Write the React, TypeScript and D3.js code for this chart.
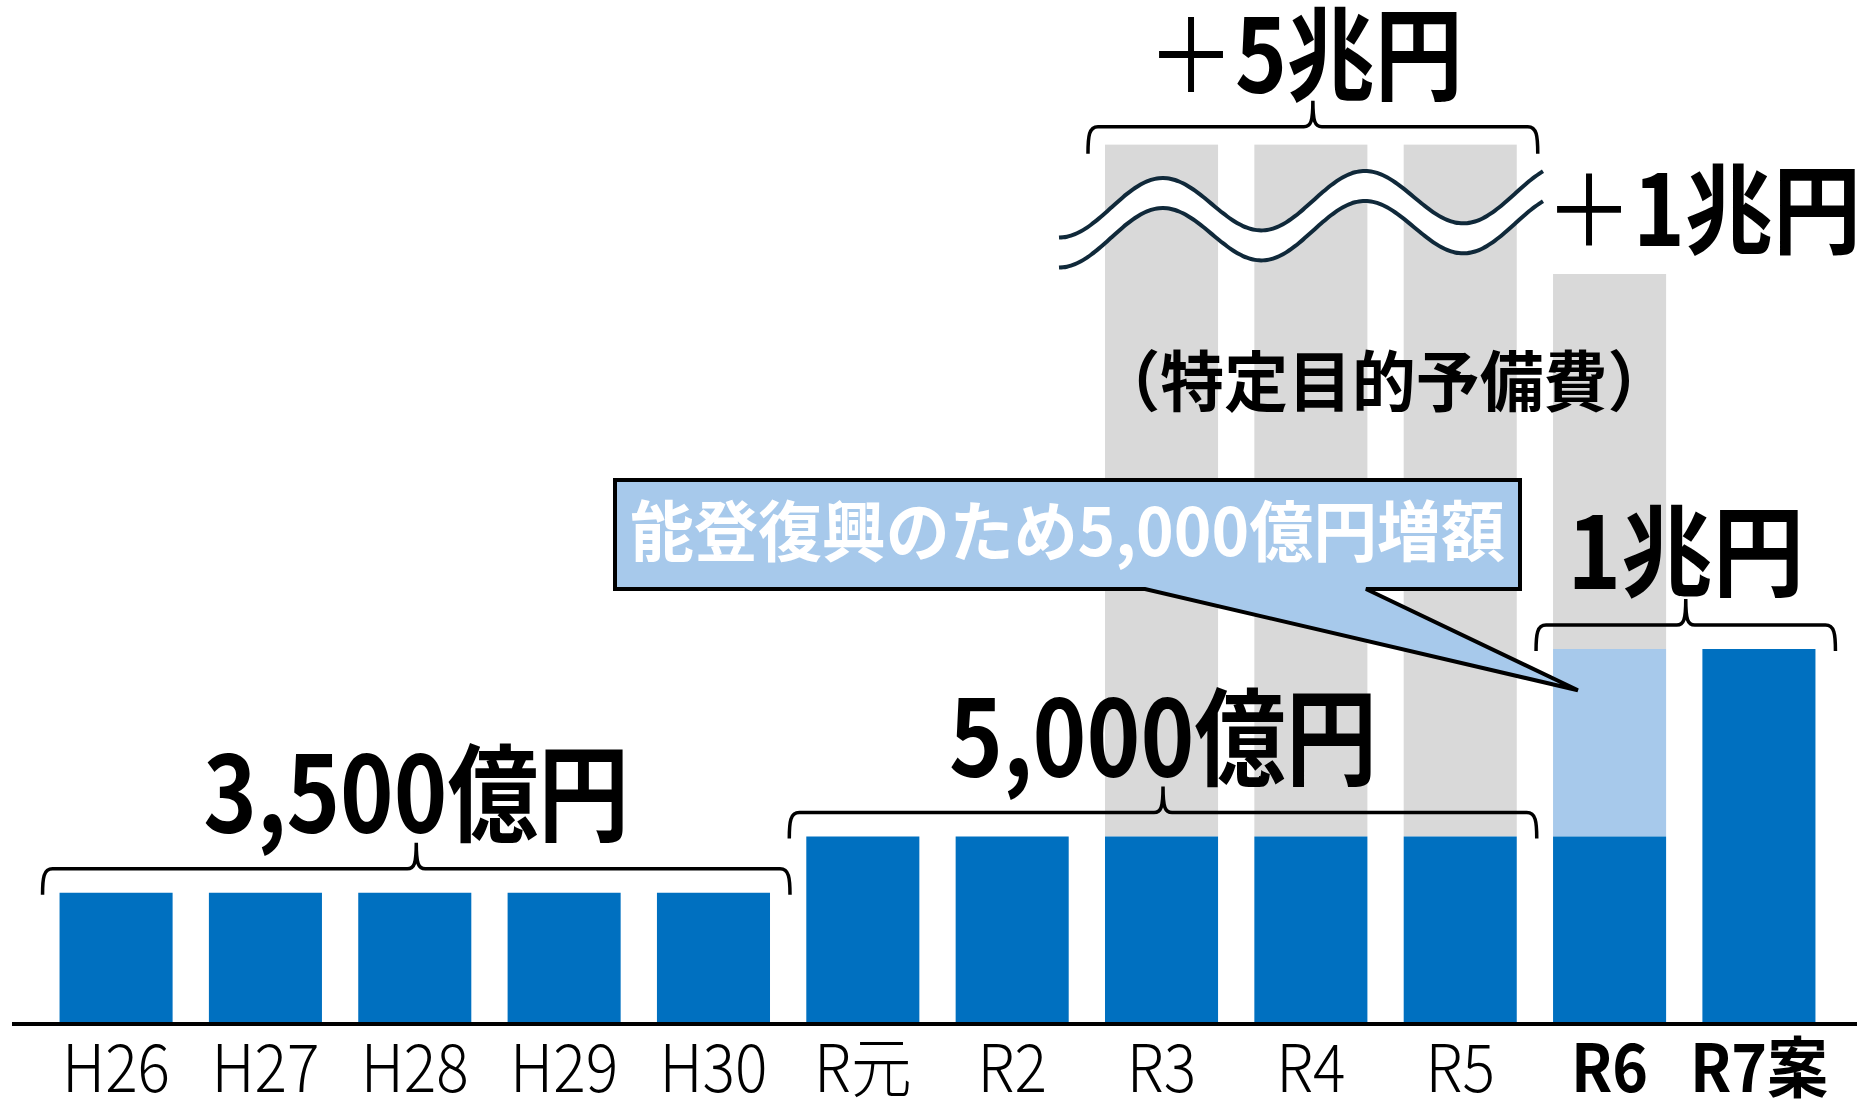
import React, { useEffect, useRef } from 'react';
import * as d3 from 'd3';

// 予備費の推移（億円）
const years = ['H26', 'H27', 'H28', 'H29', 'H30', 'R元', 'R2', 'R3', 'R4', 'R5', 'R6', 'R7案'];
const generalReserve = [3500, 3500, 3500, 3500, 3500, 5000, 5000, 5000, 5000, 5000, 5000, 10000];
const notoIncrease = [0, 0, 0, 0, 0, 0, 0, 0, 0, 0, 5000, 0];
const specialReserve = [0, 0, 0, 0, 0, 0, 0, 50000, 50000, 50000, 10000, 0];
const boldYears = ['R6', 'R7案'];

const braceFrom = ['H26', 'R元', 'R6'];
const braceTo = ['H30', 'R5', 'R7案'];
const braceLabels = ['3,500億円', '5,000億円', '1兆円'];

const W = 1867;
const H = 1100;
const BREAK_CAP = 23450; // 波線で省略した特定目的予備費の表示上の上限
const FONT = '"Noto Sans CJK JP", "Noto Sans", sans-serif';

function bracePath(x0: number, x1: number, yH: number, drop: number, tip: number) {
  const xm = (x0 + x1) / 2;
  return (
    `M${x0},${yH + drop} C${x0},${yH + drop * 0.35} ${x0 + 1},${yH} ${x0 + 10},${yH} ` +
    `H${xm - 9} C${xm - 2},${yH} ${xm},${yH - 5} ${xm},${yH - tip} ` +
    `C${xm},${yH - 5} ${xm + 2},${yH} ${xm + 9},${yH} ` +
    `H${x1 - 10} C${x1 - 1},${yH} ${x1},${yH + drop * 0.35} ${x1},${yH + drop}`
  );
}

export default function App() {
  const ref = useRef<SVGSVGElement>(null);

  useEffect(() => {
    const svg = d3.select(ref.current);
    svg.selectAll('*').remove();

    const x = d3
      .scaleBand()
      .domain(years)
      .range([41.4, 1833.6])
      .paddingInner(0.243)
      .paddingOuter(0.1215);
    const y = d3.scaleLinear().domain([0, 20000]).range([1024, 274]);
    const bw = x.bandwidth();

    const rows = years.map((yr, i) => ({
      year: yr,
      general: generalReserve[i],
      noto: notoIncrease[i],
      special: specialReserve[i],
    }));

    // Grey bars (特定目的予備費) - clipped at the break
    svg
      .append('g')
      .selectAll('rect')
      .data(rows.filter((d) => d.special > 0))
      .join('rect')
      .attr('x', (d) => x(d.year)!)
      .attr('width', bw)
      .attr('y', (d) => y(Math.min(d.general + d.noto + d.special, BREAK_CAP)))
      .attr('height', (d) => y(d.general + d.noto) - y(Math.min(d.general + d.noto + d.special, BREAK_CAP)))
      .attr('fill', '#d9d9d9');

    // Light blue (能登復興 増額)
    svg
      .append('g')
      .selectAll('rect')
      .data(rows.filter((d) => d.noto > 0))
      .join('rect')
      .attr('x', (d) => x(d.year)!)
      .attr('width', bw)
      .attr('y', (d) => y(d.general + d.noto))
      .attr('height', (d) => y(d.general) - y(d.general + d.noto))
      .attr('fill', '#a7c9eb');

    // Dark blue (一般予備費)
    svg
      .append('g')
      .selectAll('rect')
      .data(rows)
      .join('rect')
      .attr('x', (d) => x(d.year)!)
      .attr('width', bw)
      .attr('y', (d) => y(d.general))
      .attr('height', (d) => y(0) - y(d.general))
      .attr('fill', '#0070c0');

    // Wave (省略記号)
    const waveStart = x('R3')! - 46;
    const waveEnd = x('R5')! + bw + 28;
    const peakX = x('R3')! + bw / 2;
    const xs = d3.range(waveStart, waveEnd + 1, 4);
    const waveY = (px: number) =>
      206 - 0.035 * (px - peakX) - 28 * Math.cos((2 * Math.PI * (px - peakX)) / 202);
    const gap = 30;
    svg
      .append('path')
      .datum(xs)
      .attr(
        'd',
        d3
          .area<number>()
          .x((d) => d)
          .y0((d) => waveY(d))
          .y1((d) => waveY(d) + gap)
          .curve(d3.curveBasis),
      )
      .attr('fill', '#fff');
    [0, gap].forEach((off) => {
      svg
        .append('path')
        .datum(xs)
        .attr(
          'd',
          d3
            .line<number>()
            .x((d) => d)
            .y((d) => waveY(d) + off)
            .curve(d3.curveBasis),
        )
        .attr('fill', 'none')
        .attr('stroke', '#10293a')
        .attr('stroke-width', 4);
    });

    // Braces + labels
    const braceG = svg.append('g');
    const labelG = svg.append('g').attr('font-family', FONT).attr('font-weight', 700).attr('fill', '#000');
    const tipH = 26;
    braceFrom.forEach((f, i) => {
      const i0 = years.indexOf(f);
      const i1 = years.indexOf(braceTo[i]);
      const top = d3.min(d3.range(i0, i1 + 1), (k) => y(generalReserve[k] + notoIncrease[k]))!;
      const x0 = x(f)! - 17;
      const x1 = x(braceTo[i])! + bw + 20;
      const yH = top - 24;
      braceG
        .append('path')
        .attr('d', bracePath(x0, x1, yH, 26, tipH))
        .attr('fill', 'none')
        .attr('stroke', '#000')
        .attr('stroke-width', 3.5);
      const big = i < 2;
      labelG
        .append('text')
        .attr('x', (x0 + x1) / 2)
        .attr('y', yH - tipH - 10)
        .attr('text-anchor', 'middle')
        .attr('font-size', big ? 106 : 100)
        .attr('textLength', [426, 428, 237][i])
        .attr('lengthAdjust', 'spacingAndGlyphs')
        .text(braceLabels[i]);
    });

    // Labels with a thin full-width plus sign
    const plusLabel = (px: number, py: number, size: number, len: number, anchor: string, rest: string) => {
      const t = labelG
        .append('text')
        .attr('x', px)
        .attr('y', py)
        .attr('text-anchor', anchor)
        .attr('font-size', size)
        .attr('textLength', len)
        .attr('lengthAdjust', 'spacingAndGlyphs');
      t.append('tspan').attr('font-weight', 400).text('＋');
      t.append('tspan').text(rest);
    };

    // +5兆円 brace over R3..R5
    {
      const x0 = x('R3')! - 17;
      const x1 = x('R5')! + bw + 21;
      const yH = y(BREAK_CAP) - 18;
      braceG
        .append('path')
        .attr('d', bracePath(x0, x1, yH, 27, tipH))
        .attr('fill', 'none')
        .attr('stroke', '#000')
        .attr('stroke-width', 3.5);
      plusLabel((x0 + x1) / 2 - 8, yH - tipH - 8, 102, 316, 'middle', '5兆円');
    }

    // +1兆円 over R6 grey
    const r6Top = y(generalReserve[10] + notoIncrease[10] + specialReserve[10]);
    plusLabel(x('R6')! - 8, r6Top - 28, 98, 316, 'start', '1兆円');

    labelG
      .append('text')
      .attr('x', x('R4')! + bw / 2 + 73)
      .attr('y', 406)
      .attr('text-anchor', 'middle')
      .attr('font-size', 66)
      .attr('textLength', 575)
      .attr('lengthAdjust', 'spacingAndGlyphs')
      .text('（特定目的予備費）');

    // Callout
    const tipX = x('R6')! + bw * 0.22;
    const tipY = y(generalReserve[10] + notoIncrease[10] * 0.78);
    const bx0 = 615;
    const bx1 = 1520;
    const by0 = 480;
    const by1 = 589;
    svg
      .append('path')
      .attr(
        'd',
        `M${bx0},${by0} H${bx1} V${by1} H1366 L${tipX},${tipY} L1145,${by1} H${bx0} Z`,
      )
      .attr('fill', '#a7c9eb')
      .attr('stroke', '#000')
      .attr('stroke-width', 4)
      .attr('stroke-linejoin', 'miter');
    svg
      .append('text')
      .attr('x', (bx0 + bx1) / 2)
      .attr('y', 556)
      .attr('text-anchor', 'middle')
      .attr('font-family', FONT)
      .attr('font-weight', 700)
      .attr('font-size', 66)
      .attr('fill', '#fff')
      .attr('textLength', 875)
      .attr('lengthAdjust', 'spacingAndGlyphs')
      .text('能登復興のため5,000億円増額');

    // Baseline
    svg
      .append('line')
      .attr('x1', 12)
      .attr('x2', 1857)
      .attr('y1', y(0))
      .attr('y2', y(0))
      .attr('stroke', '#000')
      .attr('stroke-width', 4);

    // X axis labels
    const axis = svg
      .append('g')
      .attr('transform', `translate(0, ${y(0)})`)
      .call(d3.axisBottom(x).tickSize(0));
    axis.select('.domain').remove();
    axis
      .selectAll('text')
      .attr('y', 68)
      .attr('dy', 0)
      .attr('font-family', FONT)
      .attr('font-size', 66)
      .attr('fill', '#000')
      .attr('font-weight', (d: any) => (boldYears.includes(d) ? 700 : 300))
      .attr('transform', 'scale(0.92,1)');

    return () => {
      svg.selectAll('*').remove();
    };
  }, []);

  return (
    <svg
      ref={ref}
      width={W}
      height={H}
      style={{ position: 'absolute', left: 0, top: 0, display: 'block', background: '#fff' }}
    />
  );
}
